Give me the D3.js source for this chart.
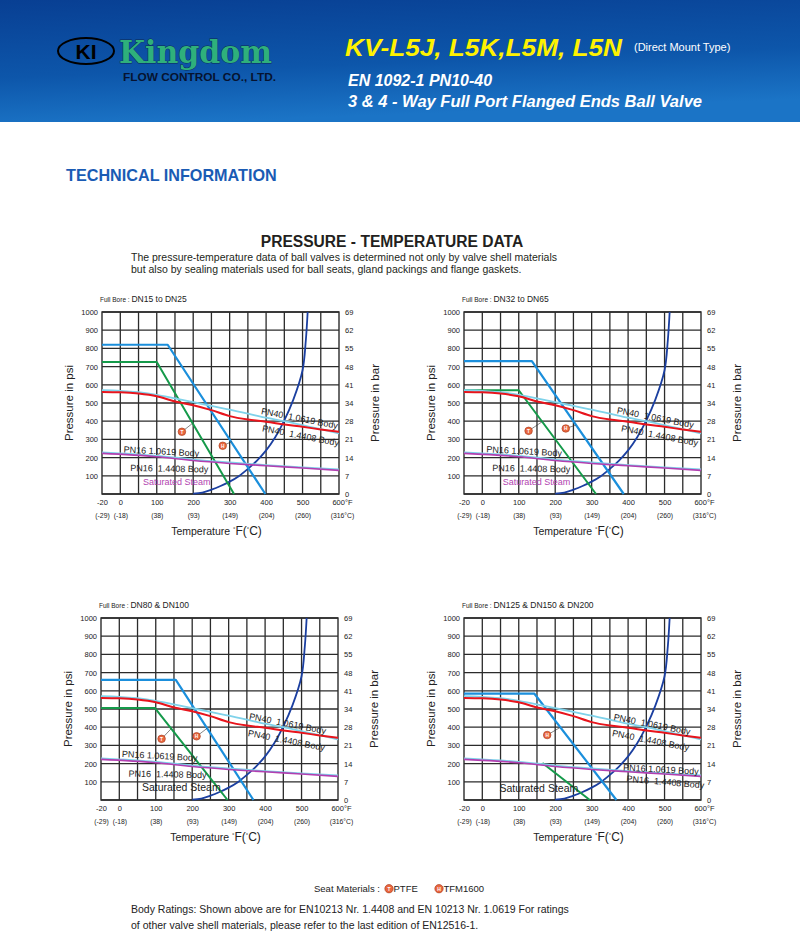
<!DOCTYPE html>
<html>
<head>
<meta charset="utf-8">
<script src="https://cdn.jsdelivr.net/npm/d3@7"></script>
<style>
  body { margin: 0; background: #fff; }
  svg { display: block; font-family: "Liberation Sans", Arial, sans-serif; }
  text { white-space: pre; }
</style>
</head>
<body>
<div id="page"></div>
<script>
// ---- data (temperature in °F, pressure in psi) ----
var tempTicksF = [-20, 0, 100, 200, 300, 400, 500, 600];
var tempLabelsF = ["-20", "0", "100", "200", "300", "400", "500", "600°F"];
var tempLabelsC = ["(-29)", "(-18)", "(38)", "(93)", "(149)", "(204)", "(260)", "(316°C)"];
var gridTempF = [0, 50, 100, 150, 200, 250, 300, 350, 400, 450, 500, 550];
var psiTicks = [0, 100, 200, 300, 400, 500, 600, 700, 800, 900, 1000];
var barLabels = ["0", "7", "14", "21", "28", "34", "41", "48", "55", "62", "69"];

// body ratings
var bodyTempF = [-20, 0, 50, 100, 150, 200, 250, 300, 350, 400, 450, 500, 550, 600];
var pn40_10619 = [570, 567, 559, 545, 525, 505, 484, 464, 442, 419, 400, 378, 356, 333];
var pn40_14408 = [561, 559, 552, 537, 508, 488, 461, 428, 409, 397, 382, 369, 355, 342];
var pn16TempF = [-20, 100, 200, 300, 400, 500, 600];
var pn16_10619 = [229, 210, 189, 173, 159, 146, 135];
var pn16_14408 = [223, 205, 184, 168, 155, 143, 130];

// saturated steam
var steamTempF = [200, 225, 250, 275, 300, 325, 350, 375, 400, 425, 450, 475, 500, 509, 514];
var steamPsi = [2, 8, 24, 44, 68, 98, 138, 184, 240, 312, 405, 520, 680, 845, 1000];

// seat ratings [°F, psi]
var ptfeDN15 = [[-20, 725], [100, 725], [312, 0]];
var tfmDN15 = [[-20, 820], [130, 820], [398, 0]];
var ptfeDN32 = [[-20, 570], [100, 570], [312, 0]];
var tfmDN32 = [[-20, 730], [136, 730], [388, 0]];
var ptfeDN80 = [[-20, 505], [98, 505], [297, 0]];
var tfmDN80 = [[-20, 660], [155, 660], [368, 0]];
var ptfeDN125 = [[165, 203], [295, 0]];
var tfmDN125 = [[-20, 584], [143, 584], [368, 0]];

var W = 237, H = 182;
var colors = {
    tfm: "#1b8fdc", ptfe: "#159a4a", red: "#e8141c", cyan: "#7fd2ea",
    purple: "#b23fb0", steam: "#1b3fa0", grid: "#2b2b2b"
};

var svg = d3.select("#page").append("svg").attr("width", 800).attr("height", 934);

// ---- header band ----
var defs = svg.append("defs");
var grad = defs.append("linearGradient").attr("id", "hdr")
    .attr("x1", "0").attr("y1", "0").attr("x2", "0.25").attr("y2", "1");
grad.append("stop").attr("offset", "0").attr("stop-color", "#083f93");
grad.append("stop").attr("offset", "0.6").attr("stop-color", "#0d56aa");
grad.append("stop").attr("offset", "1").attr("stop-color", "#1b74c6");
svg.append("rect").attr("width", 800).attr("height", 122).attr("fill", "url(#hdr)");

svg.append("ellipse").attr("cx", 86).attr("cy", 51).attr("rx", 28).attr("ry", 13)
    .attr("fill", "none").attr("stroke", "#000").attr("stroke-width", 2);
svg.append("text").attr("x", 86).attr("y", 59).attr("text-anchor", "middle")
    .attr("font-size", 21).attr("font-weight", "bold").attr("fill", "#000")
    .attr("font-family", "'Liberation Sans Narrow', 'Liberation Sans', sans-serif").text("KI");
svg.append("text").attr("x", 119).attr("y", 63).attr("font-size", 31).attr("font-weight", "bold")
    .attr("font-family", "'DejaVu Serif', serif").attr("fill", "#2fb07b")
    .attr("stroke", "#0b2a55").attr("stroke-width", 0.8).attr("paint-order", "stroke")
    .attr("textLength", 153).attr("lengthAdjust", "spacingAndGlyphs").text("Kingdom");
svg.append("text").attr("x", 123).attr("y", 81).attr("font-size", 10.5).attr("fill", "#061330")
    .attr("font-weight", "bold").attr("textLength", 153).attr("lengthAdjust", "spacingAndGlyphs")
    .text("FLOW CONTROL CO., LTD.");

svg.append("text").attr("x", 345).attr("y", 56).attr("font-size", 24).attr("font-weight", "bold")
    .attr("font-style", "italic").attr("fill", "#fff200")
    .attr("textLength", 277).attr("lengthAdjust", "spacingAndGlyphs").text("KV-L5J, L5K,L5M, L5N");
svg.append("text").attr("x", 634).attr("y", 51).attr("font-size", 11).attr("fill", "#fff")
    .text("(Direct Mount Type)");
svg.append("text").attr("x", 348).attr("y", 86).attr("font-size", 16).attr("font-weight", "bold")
    .attr("font-style", "italic").attr("fill", "#fff").text("EN 1092-1 PN10-40");
svg.append("text").attr("x", 348).attr("y", 107).attr("font-size", 16).attr("font-weight", "bold")
    .attr("font-style", "italic").attr("fill", "#fff")
    .attr("textLength", 354).attr("lengthAdjust", "spacingAndGlyphs")
    .text("3 & 4 - Way Full Port Flanged Ends Ball Valve");

svg.append("text").attr("x", 66).attr("y", 181).attr("font-size", 16.2).attr("font-weight", "bold")
    .attr("fill", "#1a5bb4").text("TECHNICAL INFORMATION");

svg.append("text").attr("x", 392).attr("y", 247).attr("text-anchor", "middle").attr("font-size", 15.6)
    .attr("font-weight", "bold").attr("fill", "#231f20").text("PRESSURE - TEMPERATURE DATA");
svg.append("text").attr("x", 131).attr("y", 261).attr("font-size", 10.5).attr("fill", "#231f20")
    .text("The pressure-temperature data of ball valves is determined not only by valve shell materials");
svg.append("text").attr("x", 131).attr("y", 273).attr("font-size", 10.5).attr("fill", "#231f20")
    .text("but also by sealing materials used for ball seats, gland packings and flange gaskets.");

// ---- one chart ----
function drawChart(ox, oy, cfg) {
    var g = svg.append("g").attr("transform", `translate(${ox}, ${oy})`);

    // the -20 tick sits one grid step left of 0, so the scale is split there
    var x = d3.scaleLinear().domain([-20, 0, 600]).range([0, 18.3, W]);
    var y = d3.scaleLinear().domain([0, 1000]).range([H, 0]);

    g.append("text").attr("x", -2).attr("y", -10).attr("font-size", 6.5).attr("fill", "#222")
        .text("Full Bore : ").append("tspan").attr("font-size", 8.5).text(cfg.title);

    // grid
    g.append("g").selectAll("line").data(gridTempF).enter().append("line")
        .attr("x1", d => x(d)).attr("x2", d => x(d)).attr("y1", 0).attr("y2", H)
        .attr("stroke", colors.grid).attr("stroke-width", 1.3);
    g.append("g").selectAll("line").data(psiTicks).enter().append("line")
        .attr("x1", 0).attr("x2", W).attr("y1", d => y(d)).attr("y2", d => y(d))
        .attr("stroke", colors.grid).attr("stroke-width", 1.3);
    g.append("rect").attr("width", W).attr("height", H).attr("fill", "none")
        .attr("stroke", colors.grid).attr("stroke-width", 1.4);

    // axes (labels only)
    var left = g.append("g").call(d3.axisLeft(y).tickValues(psiTicks.slice(1)).tickSize(0).tickPadding(4)
        .tickFormat(d3.format("d")));
    var right = g.append("g").attr("transform", `translate(${W}, 0)`)
        .call(d3.axisRight(y).tickValues(psiTicks).tickSize(0).tickPadding(6)
            .tickFormat((d, i) => barLabels[i]));
    var bottomF = g.append("g").attr("transform", `translate(0, ${H})`)
        .call(d3.axisBottom(x).tickValues(tempTicksF).tickSize(0).tickPadding(6)
            .tickFormat((d, i) => tempLabelsF[i]));
    var bottomC = g.append("g").attr("transform", `translate(0, ${H + 13})`)
        .call(d3.axisBottom(x).tickValues(tempTicksF).tickSize(0).tickPadding(6)
            .tickFormat((d, i) => tempLabelsC[i]));
    [left, right, bottomF, bottomC].forEach(a => {
        a.select(".domain").remove();
        a.selectAll("text").attr("fill", "#222").attr("font-size", 7.5)
            .attr("font-family", "'Liberation Sans', Arial, sans-serif");
    });
    bottomC.selectAll("text").attr("font-size", 6.8);
    bottomF.selectAll("text").filter((d, i) => i === tempTicksF.length - 1).attr("dx", 3);
    bottomC.selectAll("text").filter((d, i) => i === tempTicksF.length - 1).attr("dx", 3);

    g.append("text").attr("transform", `translate(-29, ${H / 2}) rotate(-90)`)
        .attr("text-anchor", "middle").attr("font-size", 11.5).attr("fill", "#222").text("Pressure in psi");
    g.append("text").attr("transform", `translate(${W + 40}, ${H / 2}) rotate(-90)`)
        .attr("text-anchor", "middle").attr("font-size", 11.5).attr("fill", "#222").text("Pressure in bar");
    var tt = g.append("text").attr("x", W / 2 - 4).attr("y", H + 41).attr("text-anchor", "middle")
        .attr("fill", "#222").attr("font-size", 10.5).text("Temperature ");
    tt.append("tspan").attr("font-size", 6).attr("dy", -4).text("°");
    tt.append("tspan").attr("font-size", 12).attr("dy", 4).text("F(");
    tt.append("tspan").attr("font-size", 6).attr("dy", -4).text("°");
    tt.append("tspan").attr("font-size", 12).attr("dy", 4).text("C)");

    var line = d3.line().x(d => x(d[0])).y(d => y(d[1]));
    var smooth = d3.line().x(d => x(d[0])).y(d => y(d[1])).curve(d3.curveMonotoneX);
    var plot = g.append("g");

    function path(pts, gen, color, w) {
        plot.append("path").attr("d", gen(pts)).attr("fill", "none")
            .attr("stroke", color).attr("stroke-width", w).attr("stroke-linejoin", "round");
    }
    var zip = (xs, ys) => xs.map((v, i) => [v, ys[i]]);

    path(zip(steamTempF, steamPsi), d3.line().x(d => x(d[0])).y(d => y(d[1])).curve(d3.curveCatmullRom),
        colors.steam, 1.8);
    path(cfg.ptfe, line, colors.ptfe, 2);
    path(cfg.tfm, line, colors.tfm, 2.2);
    path(zip(pn16TempF, pn16_10619), smooth, colors.cyan, 1.8);
    path(zip(pn16TempF, pn16_14408), smooth, colors.purple, 1.6);
    path(zip(bodyTempF, pn40_10619), smooth, colors.cyan, 1.8);
    path(zip(bodyTempF, pn40_14408), smooth, colors.red, 2);

    // curve labels
    cfg.labels.forEach(l => {
        g.append("text").attr("transform", `translate(${x(l.t)}, ${y(l.p)}) rotate(${l.r || 0})`)
            .attr("font-size", l.size || 9).attr("fill", l.color || "#222").text(l.text);
    });

    // seat markers with leader lines
    cfg.markers.forEach(m => {
        g.append("line").attr("x1", x(m.at[0])).attr("y1", y(m.at[1]))
            .attr("x2", x(m.to[0])).attr("y2", y(m.to[1]))
            .attr("stroke", "#333").attr("stroke-width", 0.6);
        g.append("circle").attr("cx", x(m.at[0])).attr("cy", y(m.at[1])).attr("r", 3.8)
            .attr("fill", "#e9673f").attr("stroke", "#a33515").attr("stroke-width", 0.6);
        g.append("text").attr("x", x(m.at[0])).attr("y", y(m.at[1]) + 1.8).attr("text-anchor", "middle")
            .attr("font-size", 4.8).attr("font-weight", "bold").attr("fill", "#fff").text(m.kind);
    });
}

var pn40Labels = (a, b) => [
    { text: "PN40  1.0619 Body", t: a[0], p: a[1], r: 11 },
    { text: "PN40  1.4408 Body", t: b[0], p: b[1], r: 11 }
];

drawChart(102, 312, {
    title: "DN15 to DN25", ptfe: ptfeDN15, tfm: tfmDN15,
    labels: pn40Labels([385, 440], [388, 345]).concat([
        { text: "PN16 1.0619 Body", t: 9, p: 228, r: 3 },
        { text: "PN16  1.4408 Body", t: 27, p: 126, r: 1 },
        { text: "Saturated Steam", t: 62, p: 49, color: colors.purple }
    ]),
    markers: [
        { kind: "T", at: [169, 342], to: [198, 388] },
        { kind: "H", at: [281, 265], to: [306, 288] }
    ]
});

drawChart(464, 312, {
    title: "DN32 to DN65", ptfe: ptfeDN32, tfm: tfmDN32,
    labels: pn40Labels([368, 444], [380, 345]).concat([
        { text: "PN16 1.0619 Body", t: 11, p: 229, r: 3 },
        { text: "PN16  1.4408 Body", t: 27, p: 126, r: 1 },
        { text: "Saturated Steam", t: 56, p: 51, color: colors.purple }
    ]),
    markers: [
        { kind: "T", at: [127, 347], to: [164, 397] },
        { kind: "H", at: [229, 360], to: [256, 378] }
    ]
});

drawChart(101, 618, {
    title: "DN80 & DN100", ptfe: ptfeDN80, tfm: tfmDN80,
    labels: pn40Labels([355, 444], [352, 352]).concat([
        { text: "PN16 1.0619 Body", t: 7, p: 236, r: 3 },
        { text: "PN16  1.4408 Body", t: 25, p: 128, r: 1 },
        { text: "Saturated Steam", t: 62, p: 48, size: 10.5 }
    ]),
    markers: [
        { kind: "T", at: [116, 336], to: [142, 391] },
        { kind: "H", at: [212, 350], to: [241, 394] }
    ]
});

drawChart(464, 618, {
    title: "DN125 & DN150 & DN200", ptfe: ptfeDN125, tfm: tfmDN125,
    labels: pn40Labels([359, 440], [355, 352]).concat([
        { text: "PN16 1.0619 Body", t: 386, p: 162, r: 3 },
        { text: "PN16  1.4408 Body", t: 395, p: 101, r: 5 },
        { text: "Saturated Steam", t: 47, p: 42, size: 10.5 }
    ]),
    markers: [
        { kind: "H", at: [178, 357], to: [213, 398] }
    ]
});

// ---- footer ----
var seat = svg.append("g").attr("transform", "translate(0, 892)");
seat.append("text").attr("x", 314).attr("y", 0).attr("font-size", 9.5).attr("fill", "#222").text("Seat Materials :");
[{ x: 389, k: "T", label: "PTFE" }, { x: 439, k: "H", label: "TFM1600" }].forEach(s => {
    seat.append("circle").attr("cx", s.x).attr("cy", -3.3).attr("r", 4.2)
        .attr("fill", "#e9673f").attr("stroke", "#a33515").attr("stroke-width", 0.6);
    seat.append("text").attr("x", s.x).attr("y", -1.3).attr("text-anchor", "middle").attr("font-size", 5)
        .attr("font-weight", "bold").attr("fill", "#fff").text(s.k);
    seat.append("text").attr("x", s.x + 4.5).attr("y", 0).attr("font-size", 9.5).attr("fill", "#222").text(s.label);
});
svg.append("text").attr("x", 131).attr("y", 913).attr("font-size", 10.5).attr("fill", "#222")
    .text("Body Ratings: Shown above are for EN10213 Nr. 1.4408 and EN 10213 Nr. 1.0619 For ratings");
svg.append("text").attr("x", 131).attr("y", 929).attr("font-size", 10.5).attr("fill", "#222")
    .text("of other valve shell materials, please refer to the last edition of EN12516-1.");
</script>
</body>
</html>
